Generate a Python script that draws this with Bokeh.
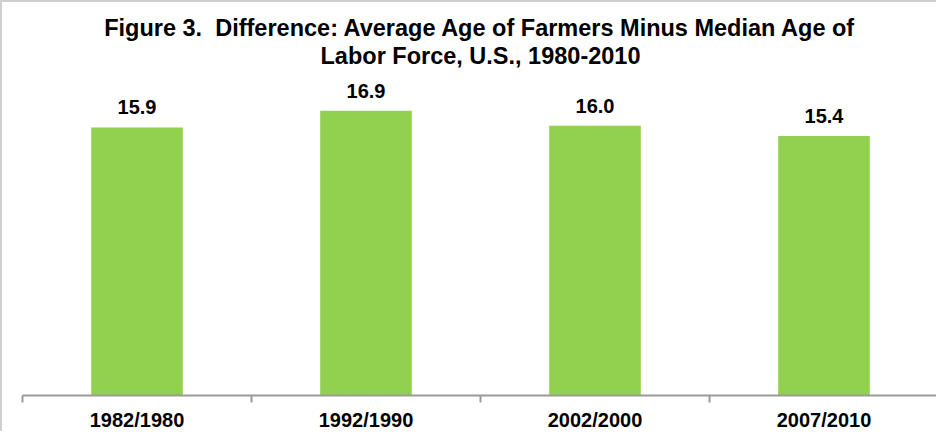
import numpy as np
from bokeh.plotting import figure
from bokeh.core.properties import value
from bokeh.models import ColumnDataSource, LabelSet, Range1d, FixedTicker, LinearAxis, Title
from bokeh.embed import file_html
from bokeh.resources import INLINE

categories = ["1982/1980", "1992/1990", "2002/2000", "2007/2010"]
values = [15.9, 16.9, 16.0, 15.4]
title_lines = ["Figure 3.\u00a0 Difference: Average Age of Farmers Minus Median Age of",
               "Labor Force, U.S., 1980-2010"]

FONT = "Liberation Sans"
n = len(categories)
centers = np.arange(n) + 0.5
bounds = np.arange(n + 1)

src = ColumnDataSource(dict(x=centers, top=values, label=[f"{v:.1f}" for v in values]))

p = figure(width=936, height=431, x_range=Range1d(0, n), y_range=Range1d(0, 19.4),
           output_backend="svg", toolbar_location=None,
           x_axis_location=None, y_axis_location=None,
           min_border_left=20, min_border_right=0, min_border_bottom=30, min_border_top=66)
p.outline_line_color = None
p.grid.visible = False
p.background_fill_color = "white"
p.border_fill_color = "white"
p.styles = {"border-top": "2px solid #cfcfcf", "border-left": "2px solid #cfcfcf",
            "box-sizing": "border-box"}

p.vbar(x="x", top="top", width=0.4, source=src, fill_color="#92D050", line_color=None)

labels = LabelSet(x="x", y="top", text="label", source=src, text_align="center",
                  text_baseline="alphabetic", y_offset=13, text_font=value(FONT),
                  text_font_size="20px", text_font_style="bold", text_color="black")
p.add_layout(labels)

ax = LinearAxis(ticker=FixedTicker(ticks=list(centers), minor_ticks=list(bounds)),
                major_label_overrides={float(c): lab for c, lab in zip(centers, categories)})
ax.axis_line_color = "#9a9a9a"
ax.axis_line_width = 2
ax.major_tick_line_color = None
ax.major_tick_out = 0
ax.major_tick_in = 0
ax.minor_tick_line_color = "#9a9a9a"
ax.minor_tick_line_width = 2
ax.minor_tick_out = 7
ax.minor_tick_in = 0
ax.major_label_standoff = 6
ax.major_label_text_font = FONT
ax.major_label_text_font_size = "20px"
ax.major_label_text_font_style = "bold"
ax.major_label_text_color = "black"
p.add_layout(ax, "below")

for i, line in enumerate(reversed(title_lines)):
    t = Title(text=line, align="center", text_font=FONT, text_font_size="23.5px",
              text_font_style="bold", text_color="black", standoff=0)
    p.add_layout(t, "above")

open("out.html", "w").write(file_html(p, INLINE))
